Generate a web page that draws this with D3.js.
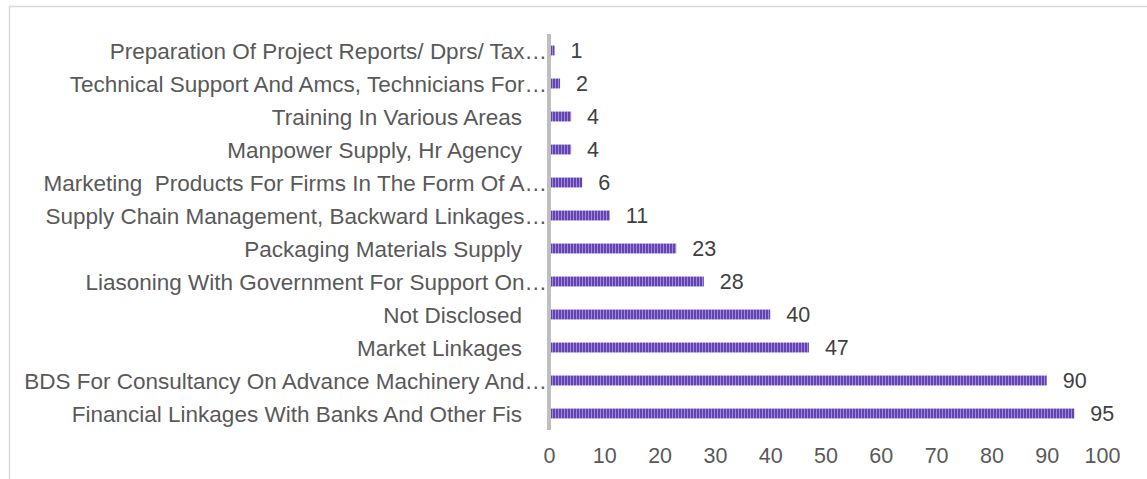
<!DOCTYPE html>
<html><head><meta charset="utf-8">
<script src="https://cdn.jsdelivr.net/npm/d3@7"></script>
<style>html,body{margin:0;padding:0;background:#fff;overflow:hidden}</style>
</head><body>
<svg id="c" width="1147" height="479"></svg>
<script>
const categories = [
  "Preparation Of Project Reports/ Dprs/ Tax…",
  "Technical Support And Amcs, Technicians For…",
  "Training In Various Areas",
  "Manpower Supply, Hr Agency",
  "Marketing  Products For Firms In The Form Of A…",
  "Supply Chain Management, Backward Linkages…",
  "Packaging Materials Supply",
  "Liasoning With Government For Support On…",
  "Not Disclosed",
  "Market Linkages",
  "BDS For Consultancy On Advance Machinery And…",
  "Financial Linkages With Banks And Other Fis"
];
const values = [1, 2, 4, 4, 6, 11, 23, 28, 40, 47, 90, 95];
const tickValues = [0, 10, 20, 30, 40, 50, 60, 70, 80, 90, 100];

const svg = d3.select("#c");
const font = "Liberation Sans, Arial, sans-serif";

svg.append("rect").attr("x", 9.5).attr("y", 6.5).attr("width", 1200).attr("height", 600)
  .attr("fill", "none").attr("stroke", "#d9d9d9").attr("stroke-width", 1.5);

const defs = svg.append("defs");
const pat = defs.append("pattern").attr("id", "stripe").attr("patternUnits", "userSpaceOnUse")
  .attr("width", 3).attr("height", 10);
pat.append("rect").attr("width", 3).attr("height", 10).attr("fill", "#6444ae");
pat.append("rect").attr("x", 0).attr("width", 1).attr("height", 10).attr("fill", "#a08ae0");

const x = d3.scaleLinear().domain([0, 100]).range([549, 1102]);
const y = d3.scaleBand().domain(categories).range([34, 430]).paddingInner(0.7).paddingOuter(0.35);

// bars
svg.append("g").selectAll("rect").data(values).enter().append("rect")
  .attr("x", x(0))
  .attr("y", (d, i) => y(categories[i]))
  .attr("width", d => x(d) - x(0))
  .attr("height", y.bandwidth())
  .attr("fill", "url(#stripe)");

// axis line
svg.append("line").attr("x1", x(0)).attr("x2", x(0)).attr("y1", 34).attr("y2", 430)
  .attr("stroke", "#bfbfbf").attr("stroke-width", 4);

// x axis tick labels
const xAxis = d3.axisBottom(x).tickValues(tickValues).tickSize(0).tickPadding(0);
const gx = svg.append("g").attr("transform", "translate(0,447)").call(xAxis);
gx.select(".domain").remove();
gx.selectAll("text").attr("font-family", font).attr("font-size", 21.5).attr("fill", "#595959")
  .attr("dy", "0.76em");

// category labels
const yAxis = d3.axisLeft(y).tickSize(0).tickPadding(0);
const gy = svg.append("g").attr("transform", `translate(${x(0)},0)`).call(yAxis);
gy.select(".domain").remove();
gy.selectAll("text").attr("font-family", font).attr("font-size", 22.5).attr("fill", "#595959")
  .attr("x", d => d.endsWith("…") ? -2 : -27).attr("dy", "0.36em")
  .style("white-space", "pre");

// data labels
svg.append("g").selectAll("text").data(values).enter().append("text")
  .attr("x", d => x(d) + 16)
  .attr("y", (d, i) => y(categories[i]) + y.bandwidth() / 2)
  .attr("dy", "0.36em")
  .attr("font-family", font).attr("font-size", 21.5).attr("fill", "#404040")
  .text(d => d);
</script>
</body></html>
